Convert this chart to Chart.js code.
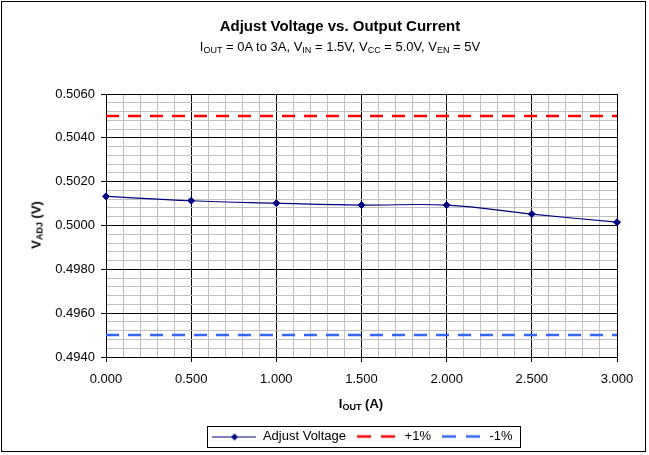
<!DOCTYPE html>
<html>
<head>
<meta charset="utf-8">
<script src="https://cdn.jsdelivr.net/npm/chart.js@4/dist/chart.umd.min.js"></script>
<style>
html,body{margin:0;padding:0;background:#fff;}
#wrap{position:relative;width:649px;height:455px;font-family:"Liberation Sans",Arial,sans-serif;color:#000;overflow:hidden;}
#chart{position:absolute;left:0;top:0;}
.t{position:absolute;white-space:nowrap;line-height:1;}
#title{left:340px;top:18px;transform:translateX(-50%);font-weight:bold;font-size:15px;}
#subtitle{left:340px;top:40px;transform:translateX(-50%);font-size:13px;}
#xtitle{left:361px;top:397px;transform:translateX(-50%);font-weight:bold;font-size:13px;}
#ytitle{left:36px;top:225px;transform:translate(-50%,-50%) rotate(-90deg);font-weight:bold;font-size:13px;}
sub{font-size:9px;vertical-align:baseline;position:relative;top:2px;}
</style>
</head>
<body>
<div id="wrap">
  <canvas id="chart" width="649" height="455"></canvas>
  <div class="t" id="title">Adjust Voltage vs. Output Current</div>
  <div class="t" id="subtitle">I<sub>OUT</sub> = 0A to 3A, V<sub>IN</sub> = 1.5V, V<sub>CC</sub> = 5.0V, V<sub>EN</sub> = 5V</div>
  <div class="t" id="xtitle">I<sub>OUT</sub> (A)</div>
  <div class="t" id="ytitle">V<sub>ADJ</sub> (V)</div>
</div>
<script>
// ---- data ----
const currents = [0.0, 0.5, 1.0, 1.5, 2.0, 2.5, 3.0];
const adjustVoltage = [0.50133, 0.50113, 0.50102, 0.50093, 0.50093, 0.50052, 0.50015];
const limitCurrents = [0.0, 3.0];
const plusOnePct = [0.5050, 0.5050];
const minusOnePct = [0.4950, 0.4950];
const seriesNames = ['Adjust Voltage', '+1%', '-1%'];
const yRange = [0.4940, 0.5060];
const yMajorStep = 0.002;
const yMinorStep = 0.0004;
const xRange = [0.0, 3.0];
const xMajorStep = 0.5;
const xMinorStep = 0.1;

// ---- helpers ----
const FONT = '"Liberation Sans", Arial, sans-serif';
function isMajor(v, step) {
  const r = v / step;
  return Math.abs(r - Math.round(r)) < 1e-6;
}
function stepTicks(min, max, step) {
  const n = Math.round((max - min) / step);
  const out = [];
  for (let i = 0; i <= n; i++) out.push({ value: +(min + i * step).toFixed(6) });
  return out;
}
function makeIcon(kind, color) {
  const c = document.createElement('canvas');
  const ctx = c.getContext('2d');
  if (kind === 'marker') {
    c.width = 44; c.height = 10;
    ctx.strokeStyle = color; ctx.lineWidth = 1;
    ctx.beginPath(); ctx.moveTo(0, 5.5); ctx.lineTo(44, 5.5); ctx.stroke();
    ctx.fillStyle = color;
    ctx.beginPath(); ctx.moveTo(22, 2); ctx.lineTo(25.5, 5.5); ctx.lineTo(22, 9); ctx.lineTo(18.5, 5.5); ctx.closePath(); ctx.fill();
  } else {
    c.width = 40; c.height = 6;
    ctx.strokeStyle = color; ctx.lineWidth = 2.5;
    ctx.beginPath(); ctx.moveTo(1, 3); ctx.lineTo(15, 3); ctx.moveTo(25, 3); ctx.lineTo(39, 3); ctx.stroke();
  }
  return c;
}
const legendIcons = [makeIcon('marker', '#000080'), makeIcon('dash', '#ff0000'), makeIcon('dash', '#3366ff')];

const LEGEND_SHIFT = 54;
const frameAndLegendBox = {
  id: 'frameAndLegendBox',
  afterUpdate(chart) {
    const lg = chart.legend;
    if (!lg) return;
    lg.left += LEGEND_SHIFT;
    lg.right += LEGEND_SHIFT;
    (lg.legendHitBoxes || []).forEach(h => { h.left += LEGEND_SHIFT; });
  },
  afterDraw(chart) {
    const ctx = chart.ctx;
    ctx.save();
    ctx.strokeStyle = '#000';
    ctx.lineWidth = 1;
    ctx.strokeRect(1.5, 1.5, 644, 450);
    const hb = chart.legend && chart.legend.legendHitBoxes;
    if (hb && hb.length) {
      let l = Infinity, r = -Infinity, t = Infinity, b = -Infinity;
      hb.forEach(h => { l = Math.min(l, h.left); r = Math.max(r, h.left + h.width); t = Math.min(t, h.top); b = Math.max(b, h.top + h.height); });
      ctx.strokeRect(Math.round(l - 5) + 0.5, Math.round(t - 4) + 0.5, Math.round(r - l + 13), Math.round(b - t + 8));
    }
    ctx.restore();
  }
};

const toPts = (xs, ys) => xs.map((x, i) => ({ x: x, y: ys[i] }));

new Chart(document.getElementById('chart'), {
  type: 'line',
  data: {
    datasets: [
      {
        label: seriesNames[0],
        data: toPts(currents, adjustVoltage),
        borderColor: '#000080',
        backgroundColor: '#000080',
        borderWidth: 1.2,
        pointStyle: 'rectRot',
        pointRadius: 3.5,
        pointBackgroundColor: '#000080',
        pointBorderColor: '#000080',
        pointBorderWidth: 1,
        tension: 0.4,
        clip: false,
        order: 0
      },
      {
        label: seriesNames[1],
        data: toPts(limitCurrents, plusOnePct),
        borderColor: '#ff0000',
        borderWidth: 2.5,
        borderDash: [13, 9],
        pointRadius: 0,
        order: 1
      },
      {
        label: seriesNames[2],
        data: toPts(limitCurrents, minusOnePct),
        borderColor: '#3366ff',
        borderWidth: 2.5,
        borderDash: [13, 9],
        pointRadius: 0,
        order: 2
      }
    ]
  },
  options: {
    responsive: false,
    animation: false,
    devicePixelRatio: 1,
    layout: { padding: { top: 94, left: 0, right: 32, bottom: 2 } },
    scales: {
      x: {
        type: 'linear',
        min: xRange[0], max: xRange[1],
        afterFit: s => { s.height = 65; },
        afterBuildTicks: s => { s.ticks = stepTicks(xRange[0], xRange[1], xMinorStep); },
        ticks: {
          autoSkip: false,
          maxRotation: 0,
          padding: 10,
          color: '#000',
          font: { family: FONT, size: 13 },
          callback: v => isMajor(v, xMajorStep) ? Number(v).toFixed(3) : ''
        },
        grid: {
          color: c => isMajor(c.tick.value, xMajorStep) ? '#000' : '#c0c0c0',
          tickColor: c => isMajor(c.tick.value, xMajorStep) ? '#000' : 'rgba(0,0,0,0)',
          tickLength: 5,
          lineWidth: 1
        },
        border: { display: true, color: '#000', width: 1 }
      },
      y: {
        type: 'linear',
        min: yRange[0], max: yRange[1],
        afterFit: s => { s.width = 106; },
        afterBuildTicks: s => { s.ticks = stepTicks(yRange[0], yRange[1], yMinorStep); },
        ticks: {
          autoSkip: false,
          padding: 6,
          color: '#000',
          font: { family: FONT, size: 13 },
          callback: v => isMajor(v, yMajorStep) ? Number(v).toFixed(4) : ''
        },
        grid: {
          color: c => isMajor(c.tick.value, yMajorStep) ? '#000' : '#c0c0c0',
          tickColor: c => isMajor(c.tick.value, yMajorStep) ? '#000' : 'rgba(0,0,0,0)',
          tickLength: 5,
          lineWidth: 1
        },
        border: { display: true, color: '#000', width: 1 }
      }
    },
    plugins: {
      title: { display: false },
      tooltip: { enabled: false },
      legend: {
        display: true,
        position: 'bottom',
        labels: {
          usePointStyle: true,
          pointStyleWidth: 44,
          padding: 8,
          color: '#000',
          font: { family: FONT, size: 13 },
          generateLabels: chart => chart.data.datasets.map((ds, i) => ({
            text: ds.label,
            pointStyle: legendIcons[i],
            datasetIndex: i,
            hidden: false,
            lineWidth: 0,
            strokeStyle: 'rgba(0,0,0,0)',
            fillStyle: 'rgba(0,0,0,0)',
            fontColor: '#000'
          }))
        }
      }
    }
  },
  plugins: [frameAndLegendBox]
});
</script>
</body>
</html>
